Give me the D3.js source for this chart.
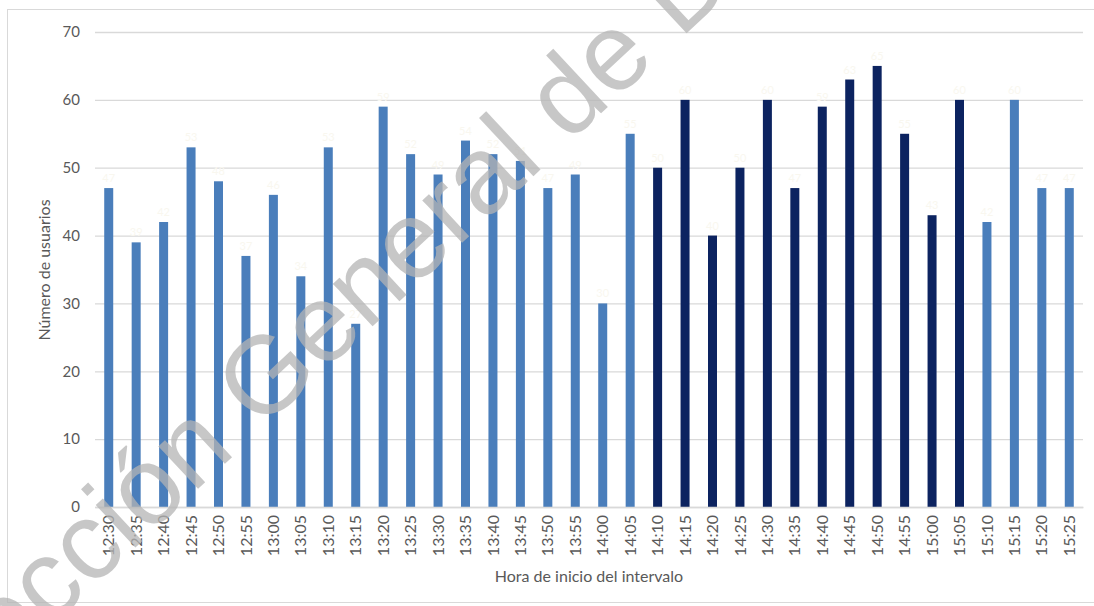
<!DOCTYPE html>
<html>
<head>
<meta charset="utf-8">
<script src="https://cdn.jsdelivr.net/npm/d3@7"></script>
<style>
  html, body { margin: 0; padding: 0; background: #ffffff; }
  svg { display: block; }
</style>
</head>
<body>
<svg id="chart" width="1094" height="606"></svg>
<script>
// Users per 5-minute interval
const times = ["12:30","12:35","12:40","12:45","12:50","12:55","13:00","13:05","13:10","13:15",
               "13:20","13:25","13:30","13:35","13:40","13:45","13:50","13:55","14:00","14:05",
               "14:10","14:15","14:20","14:25","14:30","14:35","14:40","14:45","14:50","14:55",
               "15:00","15:05","15:10","15:15","15:20","15:25"];
const users = [47, 39, 42, 53, 48, 37, 46, 34, 53, 27,
               59, 52, 49, 54, 52, 51, 47, 49, 30, 55,
               50, 60, 40, 50, 60, 47, 59, 63, 65, 55,
               43, 60, 42, 60, 47, 47];
// Intervals highlighted in the darker colour
const peakTimes = ["14:10","14:15","14:20","14:25","14:30","14:35","14:40","14:45",
                   "14:50","14:55","15:00","15:05"];
const yTicks = [0, 10, 20, 30, 40, 50, 60, 70];

const xTitle = "Hora de inicio del intervalo";
const yTitle = "Número de usuarios";
const stamp = "Dirección General de Deportes";

const svg = d3.select("#chart");
const font = "Lato, 'Open Sans', sans-serif";
const textColor = "#595959";
const gridColor = "#d9d9d9";
const light = "#4a7ebb";
const dark = "#0c2360";

const plot = { left: 95, right: 1083, top: 32, bottom: 507 };

// Frame
svg.append("rect")
  .attr("x", 7.5).attr("y", 9.5).attr("width", 1095).attr("height", 593)
  .attr("fill", "#ffffff").attr("stroke", "#d9d9d9").attr("stroke-width", 1);

const x = d3.scaleBand().domain(times).range([plot.left, plot.right])
  .paddingInner(0.672).paddingOuter(0.336);
const y = d3.scaleLinear().domain([0, 70]).range([plot.bottom, plot.top]);

// Gridlines + y labels
const yAxis = d3.axisLeft(y).tickValues(yTicks).tickSize(-(plot.right - plot.left)).tickPadding(15);
const gy = svg.append("g").attr("transform", `translate(${plot.left},0)`).call(yAxis);
gy.select(".domain").remove();
gy.selectAll(".tick line").attr("stroke", gridColor).attr("stroke-width", 1.3);
gy.selectAll(".tick text").attr("fill", textColor).attr("font-family", font).attr("font-size", 15);

// Bars
svg.append("g").selectAll("rect").data(times).join("rect")
  .attr("x", d => x(d))
  .attr("width", x.bandwidth())
  .attr("y", (d, i) => y(users[i]))
  .attr("height", (d, i) => y(0) - y(users[i]))
  .attr("fill", d => peakTimes.includes(d) ? dark : light);

// Value labels, printed very pale
svg.append("g").selectAll("text").data(times).join("text")
  .attr("x", d => x(d) + x.bandwidth() / 2)
  .attr("y", (d, i) => y(users[i]) - 6)
  .attr("text-anchor", "middle")
  .attr("font-family", font).attr("font-size", 11)
  .attr("fill", "#f9f7ef")
  .text((d, i) => users[i]);

// X axis
const xAxis = d3.axisBottom(x).tickSize(0).tickPadding(0);
const gx = svg.append("g").attr("transform", `translate(0,${plot.bottom})`).call(xAxis);
gx.select(".domain").attr("stroke", gridColor).attr("stroke-width", 1.3);
gx.selectAll(".tick text")
  .attr("fill", textColor).attr("font-family", font).attr("font-size", 16)
  .attr("text-anchor", "end")
  .attr("dy", "0.35em")
  .attr("transform", "translate(0,8) rotate(-90)")
  .attr("x", 0).attr("y", 0);

// Axis titles
svg.append("text")
  .attr("x", 589).attr("y", 582)
  .attr("text-anchor", "middle")
  .attr("font-family", font).attr("font-size", 16).attr("fill", textColor)
  .text(xTitle);
svg.append("text")
  .attr("transform", "translate(50,270) rotate(-90)")
  .attr("text-anchor", "middle")
  .attr("font-family", font).attr("font-size", 16).attr("fill", textColor)
  .text(yTitle);

// Diagonal stamp across the sheet
svg.append("text")
  .attr("transform", "translate(-98,765) rotate(-43)")
  .attr("font-family", "'Liberation Sans', Arial, sans-serif")
  .attr("font-size", 110)
  .attr("fill", "#b4b4b4").attr("fill-opacity", 0.75)
  .text(stamp);
</script>
</body>
</html>
